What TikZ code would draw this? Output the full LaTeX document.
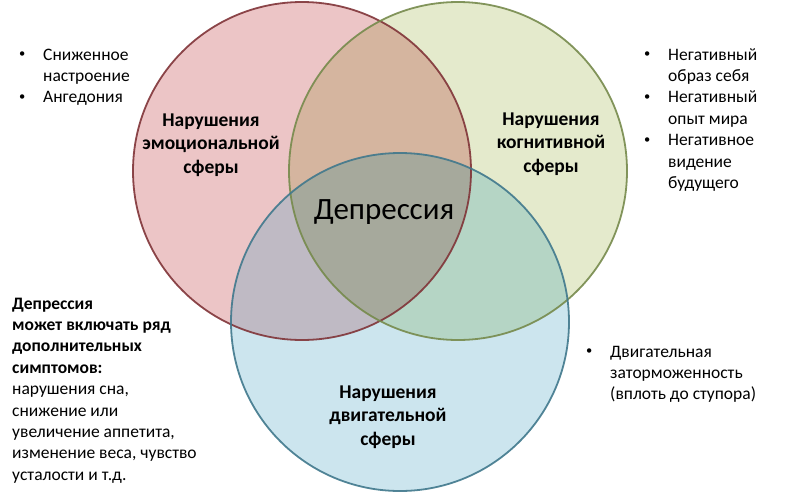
\documentclass[tikz,border=0pt]{standalone}
\usepackage{fontspec}
\setmainfont{Carlito}

\newcommand{\bulletbox}{\makebox[26pt][l]{\hspace{2pt}\raisebox{2.2pt}{\fontsize{12.5}{12.5}\selectfont\textbullet}}}

\tikzset{
  circle_label/.style={font=\bfseries\fontsize{19.5}{23.5}\selectfont,inner sep=0pt,anchor=base},
  side_text/.style={font=\fontsize{17.5}{21.4}\selectfont,inner sep=0pt,anchor=base west},
}

\begin{document}
\begin{tikzpicture}[x=1pt,y=-1pt]
% ------------------------------------------------ venn colors
\definecolor{vn_red}{RGB}{236,197,198}     %#ECC5C6
\definecolor{vn_green}{RGB}{228,234,204}   %#E4EACC
\definecolor{vn_blue}{RGB}{204,229,238}    %#CCE5EE
\definecolor{vn_rg}{RGB}{213,181,159}
\definecolor{vn_rb}{RGB}{191,186,196}
\definecolor{vn_gb}{RGB}{181,213,197}
\definecolor{vn_rgb}{RGB}{166,169,156}
\definecolor{vn_red_line}{RGB}{128,52,56}
\definecolor{vn_green_line}{RGB}{118,138,76}
\definecolor{vn_blue_line}{RGB}{64,120,140}

\useasboundingbox (0,0) rectangle (800,493);

%
%  emo=(302,171), cog=(458,171), mot=(400,322), r=169
%
\coordinate (emo) at (302,171);
\coordinate (cog) at (458,171);
\coordinate (mot) at (400,322);

\fill[vn_red]   (emo) circle (169pt);
\fill[vn_green] (cog) circle (169pt);
\fill[vn_blue]  (mot) circle (169pt);
\begin{scope}
  \clip (cog) circle (169pt);
  \fill[vn_gb] (mot) circle (169pt);
\end{scope}
\begin{scope}
  \clip (emo) circle (169pt);
  \fill[vn_rg] (cog) circle (169pt);
  \fill[vn_rb] (mot) circle (169pt);
  \clip (cog) circle (169pt);
  \fill[vn_rgb] (mot) circle (169pt);
\end{scope}

\draw [line width=1.8pt,color=vn_red_line,draw opacity=0.9]   (emo) circle (169pt);
\draw [line width=1.8pt,color=vn_green_line,draw opacity=0.9] (cog) circle (169pt);
\draw [line width=1.8pt,color=vn_blue_line,draw opacity=0.9]  (mot) circle (169pt);

% ---------------------------------------------  Circle labels
\node[circle_label] (emo_label) at (211,126) {\begin{tabular}[t]{@{}c@{}}Нарушения\\эмоциональной\\сферы\end{tabular}};
\node[circle_label] (cog_label) at (551,125) {\begin{tabular}[t]{@{}c@{}}Нарушения\\когнитивной\\сферы\end{tabular}};
\node[circle_label] (mot_label) at (388,398) {\begin{tabular}[t]{@{}c@{}}Нарушения\\двигательной\\сферы\end{tabular}};

\node[inner sep=0pt,anchor=base,font=\fontsize{31}{37}\selectfont] (dep) at (384,219) {Депрессия};

% ---------------------------------------------  Side texts
\node[side_text] (emo_list) at (17,60) {\begin{tabular}[t]{@{}l@{}l@{}}
  \bulletbox & Сниженное\\
             & настроение\\
  \bulletbox & Ангедония
\end{tabular}};
\node[side_text] (cog_list) at (642,60) {\begin{tabular}[t]{@{}l@{}l@{}}
  \bulletbox & Негативный\\
             & образ себя\\
  \bulletbox & Негативный\\
             & опыт мира\\
  \bulletbox & Негативное\\
             & видение\\
             & будущего
\end{tabular}};
\node[side_text] (mot_list) at (584,357) {\begin{tabular}[t]{@{}l@{}l@{}}
  \bulletbox & Двигательная\\
             & заторможенность\\
             & (вплоть до ступора)
\end{tabular}};
\node[side_text] (extra) at (12,309) {\begin{tabular}[t]{@{}l@{}}
  \textbf{Депрессия}\\
  \textbf{может включать ряд}\\
  \textbf{дополнительных}\\
  \textbf{симптомов:}\\
  нарушения сна,\\
  снижение или\\
  увеличение аппетита,\\
  изменение веса, чувство\\
  усталости и т.д.
\end{tabular}};

\end{tikzpicture}
\end{document}
